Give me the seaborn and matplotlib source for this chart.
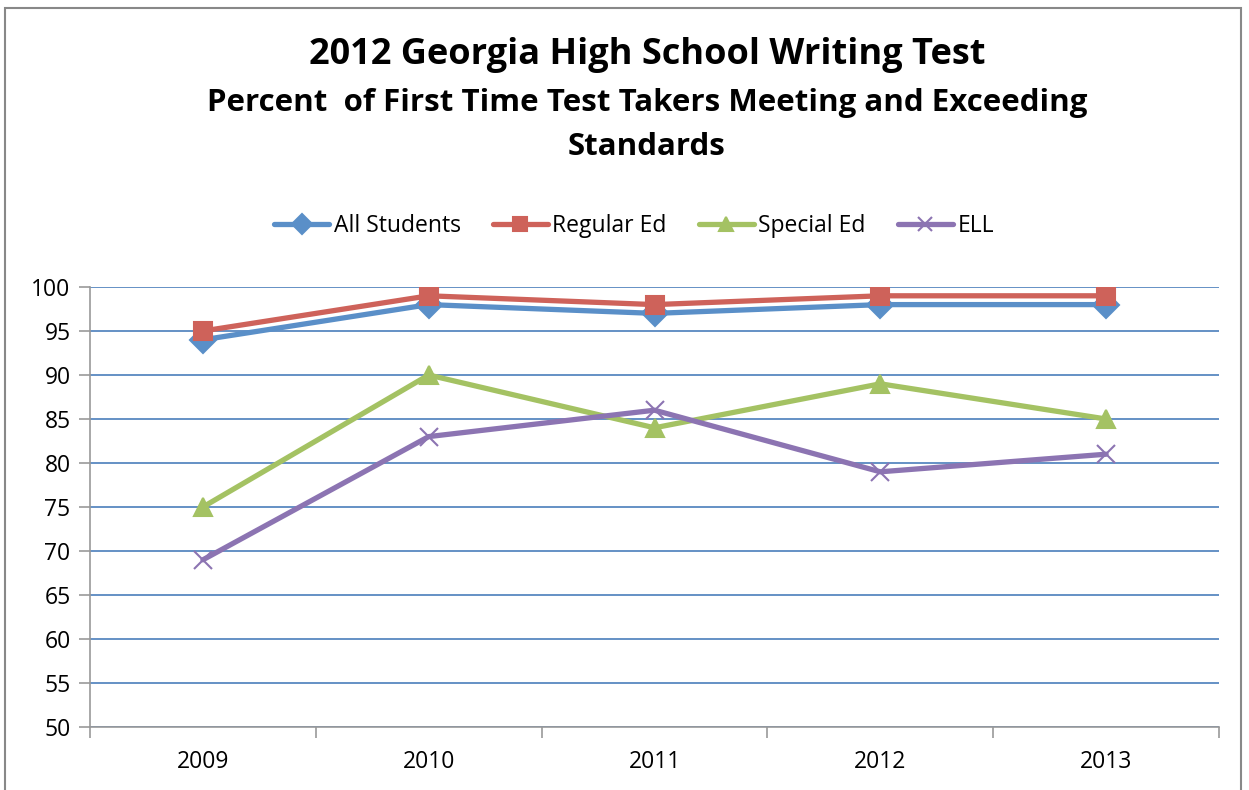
import pandas as pd
import seaborn as sns
import matplotlib.pyplot as plt
from matplotlib.patches import Rectangle

years = ["2009", "2010", "2011", "2012", "2013"]
all_students = [94, 98, 97, 98, 98]
regular_ed = [95, 99, 98, 99, 99]
special_ed = [75, 90, 84, 89, 85]
ell = [69, 83, 86, 79, 81]
series_names = ["All Students", "Regular Ed", "Special Ed", "ELL"]
y_ticks = list(range(50, 101, 5))

df = pd.DataFrame({
    "year": years * 4,
    "pct": all_students + regular_ed + special_ed + ell,
    "group": [n for n in series_names for _ in years],
})
df["xpos"] = df["year"].map({y: i for i, y in enumerate(years)})

sns.set_theme(style="white")
plt.rcParams["font.family"] = ["Open Sans", "DejaVu Sans"]
plt.rcParams["text.color"] = "black"

colors = {"All Students": "#5A8FC8", "Regular Ed": "#CE625A",
          "Special Ed": "#A4C263", "ELL": "#8C74B2"}
markers = {"All Students": "D", "Regular Ed": "s", "Special Ed": "^", "ELL": "x"}

fig = plt.figure(figsize=(12.49, 7.90), dpi=100)
ax = fig.add_axes([90 / 1249, 1 - 727 / 790, (1219 - 90) / 1249, (727 - 287) / 790])

# one call per series, since filled and line markers can't be mixed in one
for name in series_names:
    sub = df[df["group"] == name]
    sns.lineplot(data=sub, x="xpos", y="pct", color=colors[name], marker=markers[name],
                 linewidth=3.8, markersize=13, markeredgewidth=1.5,
                 markeredgecolor=colors[name], ax=ax, zorder=3)

ax.set_xlim(-0.5, 4.5)
ax.set_ylim(50, 100)
ax.set_yticks(y_ticks)
ax.set_yticklabels([str(v) for v in y_ticks], fontsize=16.5, color="black")
ax.set_xticks([i + 0.5 for i in range(-1, 5)])
ax.set_xticklabels([])
for i, y in enumerate(years):
    ax.text(i, -0.08, y, transform=ax.get_xaxis_transform(), ha="center",
            va="center", fontsize=16.5, color="black")
ax.tick_params(axis="both", direction="out", length=8, width=1.2, color="#999999",
               left=True, bottom=True, pad=6)
ax.yaxis.grid(True, color="#4A7EBB", linewidth=1.2)
ax.set_axisbelow(True)
ax.set_xlabel("")
ax.set_ylabel("")
for s in ["top", "right"]:
    ax.spines[s].set_visible(False)
for s in ["left", "bottom"]:
    ax.spines[s].set_color("#999999")
    ax.spines[s].set_linewidth(1.2)

handles = [plt.Line2D([], [], color=colors[n], marker=markers[n], linewidth=3.8,
                      markersize=10, markeredgecolor=colors[n], markeredgewidth=1.5)
           for n in series_names]
fig.legend(handles, series_names, loc="center", bbox_to_anchor=(634 / 1249, 1 - 226 / 790),
           ncol=4, frameon=False, fontsize=16.5, handlelength=2.4, columnspacing=1.4,
           handletextpad=0.2)

fig.text(647 / 1249, 1 - 55 / 790, "2012 Georgia High School Writing Test", ha="center",
         va="center", fontsize=26, fontweight="bold", color="black")
fig.text(647 / 1249, 1 - 125 / 790,
         "Percent  of First Time Test Takers Meeting and Exceeding\nStandards",
         ha="center", va="center", fontsize=22.5, fontweight="bold", linespacing=1.6,
         color="black")

fig.patches.append(Rectangle((5 / 1249, -0.01), 1236 / 1249, 1.0, transform=fig.transFigure,
                             fill=False, edgecolor="#888888", linewidth=1.5))

fig.savefig("out.png", dpi=100)
